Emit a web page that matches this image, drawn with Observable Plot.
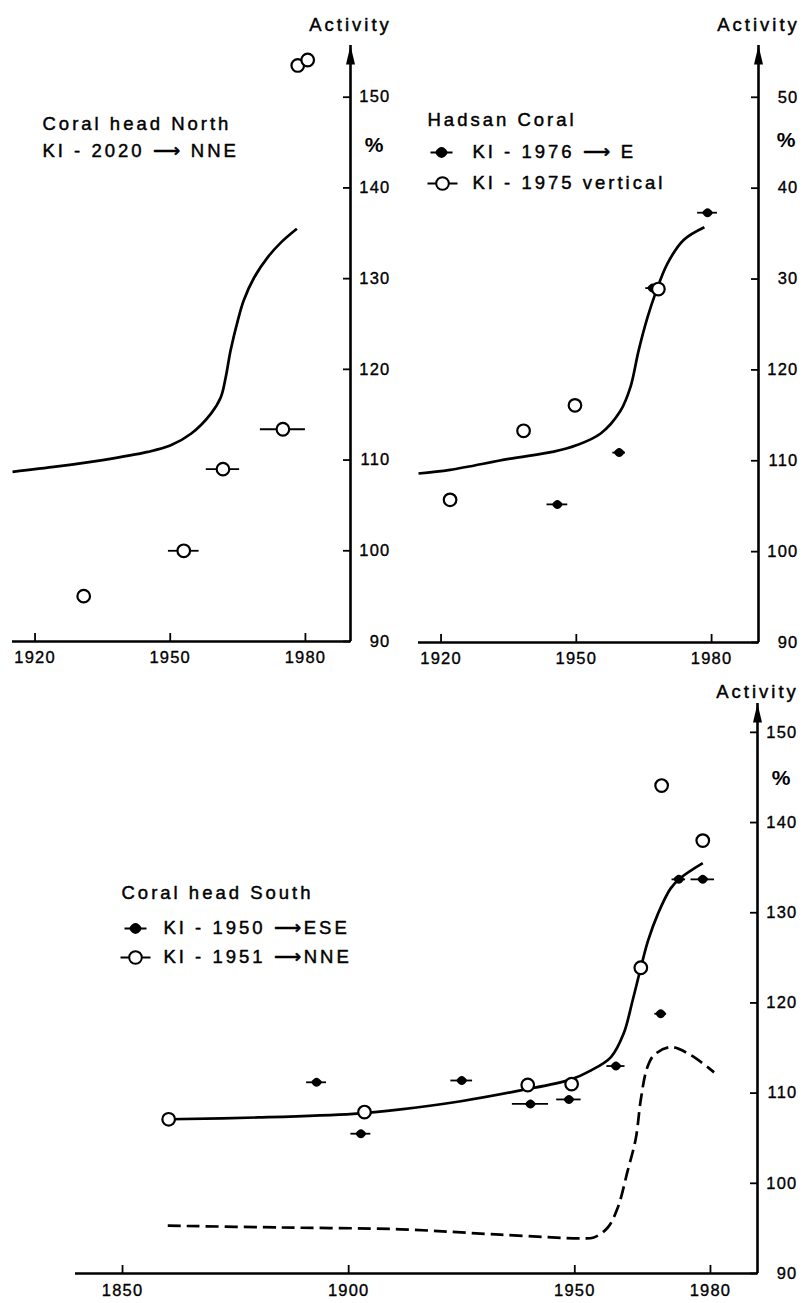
<!DOCTYPE html>
<html>
<head>
<meta charset="utf-8">
<script src="https://cdn.jsdelivr.net/npm/d3@7"></script>
<script src="https://cdn.jsdelivr.net/npm/@observablehq/plot@0.6"></script>
<style>
  body { margin: 0; background: #fff; }
  #wrap { position: relative; width: 805px; height: 1303px; overflow: hidden; background: #fff; }
  #wrap svg { position: absolute; overflow: visible; }
</style>
</head>
<body>
<div id="wrap"></div>
<script>
// ---------------- DATA ----------------
const xTicksTop = [1920, 1950, 1980];
const xTicksBottom = [1850, 1900, 1950, 1980];
const yTicks = [90, 100, 110, 120, 130, 140, 150];
const yTickLabelsNorth = ["90", "100", "110", "120", "130", "140", "150"];
const yTickLabelsHadsan = ["90", "100", "110", "120", "30", "40", "50"];
const yTickLabelsSouth = ["90", "100", "110", "120", "130", "140", "150"];

const axisTitle = "Activity";
const unitLabel = "%";

// Coral head North, KI-2020 -> NNE (open circles)
const northTitle = ["Coral head North", "KI - 2020 \u27F6 NNE"];
const northYears = [1930.8, 1953.0, 1961.7, 1975.0, 1978.3, 1980.5];
const northActivity = [95.0, 100.0, 109.0, 113.4, 153.5, 154.1];
const northYearErr = [0, 3.4, 3.7, 5.0, 0, 0];
const northCurveYears = [1915, 1925, 1935, 1945, 1950, 1954.6, 1959.0, 1961.2, 1962.3, 1963.4, 1965.0, 1966.3, 1968.6, 1971.7, 1974.6, 1978.1];
const northCurveActivity = [108.7, 109.3, 110.0, 110.9, 111.6, 112.9, 115.1, 116.9, 119.1, 122.1, 125.4, 127.6, 130.1, 132.4, 134.0, 135.5];

// Hadsan Coral
const hadsanTitle = ["Hadsan Coral"];
const hadsanLegend = ["KI - 1976 \u27F6 E", "KI - 1975 vertical"];
const hadsanEYears = [1945.8, 1959.5, 1966.9, 1979.1];
const hadsanEActivity = [105.2, 110.9, 129.0, 137.3];
const hadsanEErr = [2.3, 1.4, 1.5, 2.2];
const hadsanVYears = [1922.0, 1938.3, 1949.7, 1968.2];
const hadsanVActivity = [105.7, 113.3, 116.1, 128.9];
const hadsanCurveYears = [1915, 1922, 1935, 1945, 1950, 1955.4, 1959.8, 1962.0, 1963.8, 1965.8, 1967.6, 1970.2, 1973.8, 1978.4];
const hadsanCurveActivity = [108.6, 109.0, 110.2, 111.0, 111.7, 113.0, 115.5, 118.1, 122.1, 125.8, 128.5, 131.7, 134.3, 135.7];

// Coral head South
const southTitle = ["Coral head South"];
const southLegend = ["KI - 1950 \u27F6ESE", "KI - 1951 \u27F6NNE"];
const southEYears = [1892.9, 1902.7, 1925.0, 1940.2, 1948.7, 1959.1, 1969.0, 1973.0, 1978.3];
const southEActivity = [111.2, 105.5, 111.4, 108.8, 109.3, 113.0, 118.8, 133.7, 133.7];
const southEErr = [2.2, 2.2, 2.4, 4.0, 2.7, 2.0, 1.3, 1.5, 2.6];
const southNYears = [1860.2, 1903.5, 1939.6, 1949.3, 1964.6, 1969.2, 1978.3];
const southNActivity = [107.1, 107.9, 110.9, 111.0, 123.9, 144.1, 138.0];
const southSolidYears = [1860.2, 1880, 1901, 1911.5, 1924.8, 1938, 1949, 1953.5, 1958, 1960.8, 1962.8, 1964.6, 1966.2, 1968.4, 1971.2, 1973.5, 1978.3];
const southSolidActivity = [107.1, 107.3, 107.7, 108.2, 109.1, 110.3, 111.5, 112.5, 114.0, 116.6, 120.3, 123.9, 126.9, 129.9, 132.7, 133.9, 135.5];
const southDashYears = [1860, 1885, 1911.5, 1933.6, 1951.3, 1954.2, 1957.3, 1959.5, 1961.7, 1963.5, 1964.6, 1966.0, 1967.5, 1971.2, 1975.7, 1980.8];
const southDashActivity = [95.3, 95.1, 94.9, 94.3, 93.9, 94.0, 95.1, 97.3, 101.4, 105.0, 109.3, 112.8, 114.2, 115.1, 114.2, 112.3];

// ---------------- HELPERS ----------------
const FONT = "'Liberation Sans', Arial, Helvetica, sans-serif";
const rows = (xs, ys, es) => xs.map((x, i) => ({year: x, act: ys[i], err: es ? es[i] : 0}));

const arrowHead = {draw(ctx) { ctx.moveTo(0, 0); ctx.lineTo(4.5, 19); ctx.lineTo(-4.5, 19); ctx.closePath(); }};
const lens = {draw(ctx) { ctx.moveTo(-5.5, 0); ctx.quadraticCurveTo(0, -9, 5.5, 0); ctx.quadraticCurveTo(0, 9, -5.5, 0); ctx.closePath(); }};
const legendFilled = {draw(ctx) {
  ctx.moveTo(-11, 0); ctx.lineTo(11, 0);
  ctx.moveTo(-5.5, 0); ctx.quadraticCurveTo(0, -9, 5.5, 0); ctx.quadraticCurveTo(0, 9, -5.5, 0); ctx.closePath();
}};
const legendOpen = {draw(ctx) {
  ctx.moveTo(-15, 0); ctx.lineTo(-6.3, 0);
  ctx.moveTo(6.3, 0); ctx.lineTo(15, 0);
  ctx.moveTo(6.3, 0); ctx.arc(0, 0, 6.3, 0, 2 * Math.PI);
}};

function label(text, anchor, dx, dy, opts = {}) {
  return Plot.text([text], {text: d => d, frameAnchor: anchor, dx, dy, textAnchor: "start", lineAnchor: "middle", fontSize: 18.5, fill: "black", stroke: "black", strokeWidth: 0.45, ...opts});
}

function panel(cfg) {
  const [x0, x1] = cfg.xDomain, [y0, y1] = cfg.yDomain;
  const fmt = d => cfg.yTickLabels[yTicks.indexOf(d)];
  const marks = [
    Plot.ruleY([y0], {x1: x0, x2: x1, strokeWidth: 2.6}),
    Plot.ruleX([x1], {y1: y0, y2: y1, strokeWidth: 2.6}),
    Plot.dot([x1], {x: d => d, y: () => y1, symbol: arrowHead, fill: "black", stroke: "none"}),
    Plot.axisX({ticks: cfg.xTicks, tickSize: 8, dy: -8, fill: "none", stroke: "black", strokeWidth: 1.8, label: null}),
    Plot.axisX({ticks: cfg.xTicks, tickSize: 0, tickPadding: cfg.xPad, tickFormat: d => String(d), label: null, fill: "black", fontSize: 16.5, textStroke: "black", textStrokeWidth: 0.35}),
    Plot.axisY({anchor: "right", ticks: yTicks, tickSize: 8, dx: -8, fill: "none", stroke: "black", strokeWidth: 1.8, label: null}),
    Plot.axisY({anchor: "right", ticks: yTicks, tickSize: 0, tickPadding: 40, textAnchor: "end", tickFormat: fmt, label: null, fill: "black", fontSize: 16.5, textStroke: "black", textStrokeWidth: 0.35}),
    label(axisTitle, "top-right", 0, cfg.actDy, {textAnchor: "middle"}),
    label(unitLabel, "top-right", cfg.pct[0], cfg.pct[1], {textAnchor: "middle", fontSize: 21, fontWeight: "bold", strokeWidth: 0}),
  ];
  for (const c of cfg.curves) {
    marks.push(Plot.line(c.data, {x: "year", y: "act", curve: "catmull-rom", strokeWidth: 2.7, stroke: "black", strokeDasharray: c.dash || null, strokeLinecap: "butt"}));
  }
  if (cfg.filled) {
    const f = cfg.filled;
    marks.push(Plot.ruleY(f.filter(d => d.err > 0), {y: "act", x1: d => d.year - d.err, x2: d => d.year + d.err, strokeWidth: 1.8}));
    marks.push(Plot.dot(f, {x: "year", y: "act", symbol: lens, fill: "black", stroke: "none"}));
  }
  if (cfg.open) {
    const o = cfg.open;
    marks.push(Plot.ruleY(o.filter(d => d.err > 0), {y: "act", x1: d => d.year - d.err, x2: d => d.year + d.err, strokeWidth: 1.8}));
    marks.push(Plot.dot(o, {x: "year", y: "act", r: 6.3, fill: "white", stroke: "black", strokeWidth: 2.2}));
  }
  marks.push(...cfg.extra);
  const svg = Plot.plot({
    width: cfg.width, height: cfg.height,
    marginLeft: cfg.m[0], marginRight: cfg.m[1], marginTop: cfg.m[2], marginBottom: cfg.m[3],
    x: {domain: cfg.xDomain},
    y: {domain: cfg.yDomain},
    style: {fontFamily: FONT, fontSize: "16px", color: "black", background: "transparent", overflow: "visible"},
    marks
  });
  // letter spacing: wide for titles/legend, slight for tick labels
  svg.querySelectorAll('g[aria-label="text"] text').forEach(t => t.style.letterSpacing = "3px");
  svg.querySelectorAll('g[aria-label$="tick label"] text').forEach(t => t.style.letterSpacing = "1.2px");
  svg.style.left = cfg.left + "px";
  svg.style.top = cfg.top + "px";
  document.getElementById("wrap").appendChild(svg);
}

// ---------------- PANELS ----------------
panel({
  left: 0, top: 0, width: 400, height: 680, m: [12, 50, 45, 39],
  xDomain: [1915, 1990], yDomain: [90, 155.7], xTicks: xTicksTop, xPad: 10,
  yTickLabels: yTickLabelsNorth, actDy: -20, pct: [25, 100],
  curves: [{data: rows(northCurveYears, northCurveActivity)}],
  open: rows(northYears, northActivity, northYearErr),
  extra: [
    label(northTitle[0], "top-left", 30, 79),
    label(northTitle[1], "top-left", 30, 106),
  ]
});

panel({
  left: 400, top: 0, width: 405, height: 680, m: [18, 47, 45, 38],
  xDomain: [1915, 1990.4], yDomain: [90, 155.7], xTicks: xTicksTop, xPad: 10,
  yTickLabels: yTickLabelsHadsan, actDy: -20, pct: [29, 95],
  curves: [{data: rows(hadsanCurveYears, hadsanCurveActivity)}],
  filled: rows(hadsanEYears, hadsanEActivity, hadsanEErr),
  open: rows(hadsanVYears, hadsanVActivity),
  extra: [
    label(hadsanTitle[0], "top-left", 9, 75),
    Plot.dot([0], {frameAnchor: "top-left", dx: 23, dy: 107, symbol: legendFilled, fill: "black", stroke: "black", strokeWidth: 1.8}),
    label(hadsanLegend[0], "top-left", 54, 107),
    Plot.dot([0], {frameAnchor: "top-left", dx: 24, dy: 138, symbol: legendOpen, fill: "white", stroke: "black", strokeWidth: 2}),
    label(hadsanLegend[1], "top-left", 54, 138),
  ]
});

panel({
  left: 0, top: 680, width: 805, height: 623, m: [75, 48, 23, 30],
  xDomain: [1839.6, 1990.4], yDomain: [90, 153.2], xTicks: xTicksBottom, xPad: 11,
  yTickLabels: yTickLabelsSouth, actDy: -11, pct: [25, 75],
  curves: [
    {data: rows(southSolidYears, southSolidActivity)},
    {data: rows(southDashYears, southDashActivity), dash: "13,6"}
  ],
  filled: rows(southEYears, southEActivity, southEErr),
  open: rows(southNYears, southNActivity),
  extra: [
    label(southTitle[0], "top-left", 46, 190),
    Plot.dot([0], {frameAnchor: "top-left", dx: 60, dy: 225, symbol: legendFilled, fill: "black", stroke: "black", strokeWidth: 1.8}),
    label(southLegend[0], "top-left", 88, 225),
    Plot.dot([0], {frameAnchor: "top-left", dx: 60, dy: 254, symbol: legendOpen, fill: "white", stroke: "black", strokeWidth: 2}),
    label(southLegend[1], "top-left", 88, 254),
  ]
});
</script>
</body>
</html>
